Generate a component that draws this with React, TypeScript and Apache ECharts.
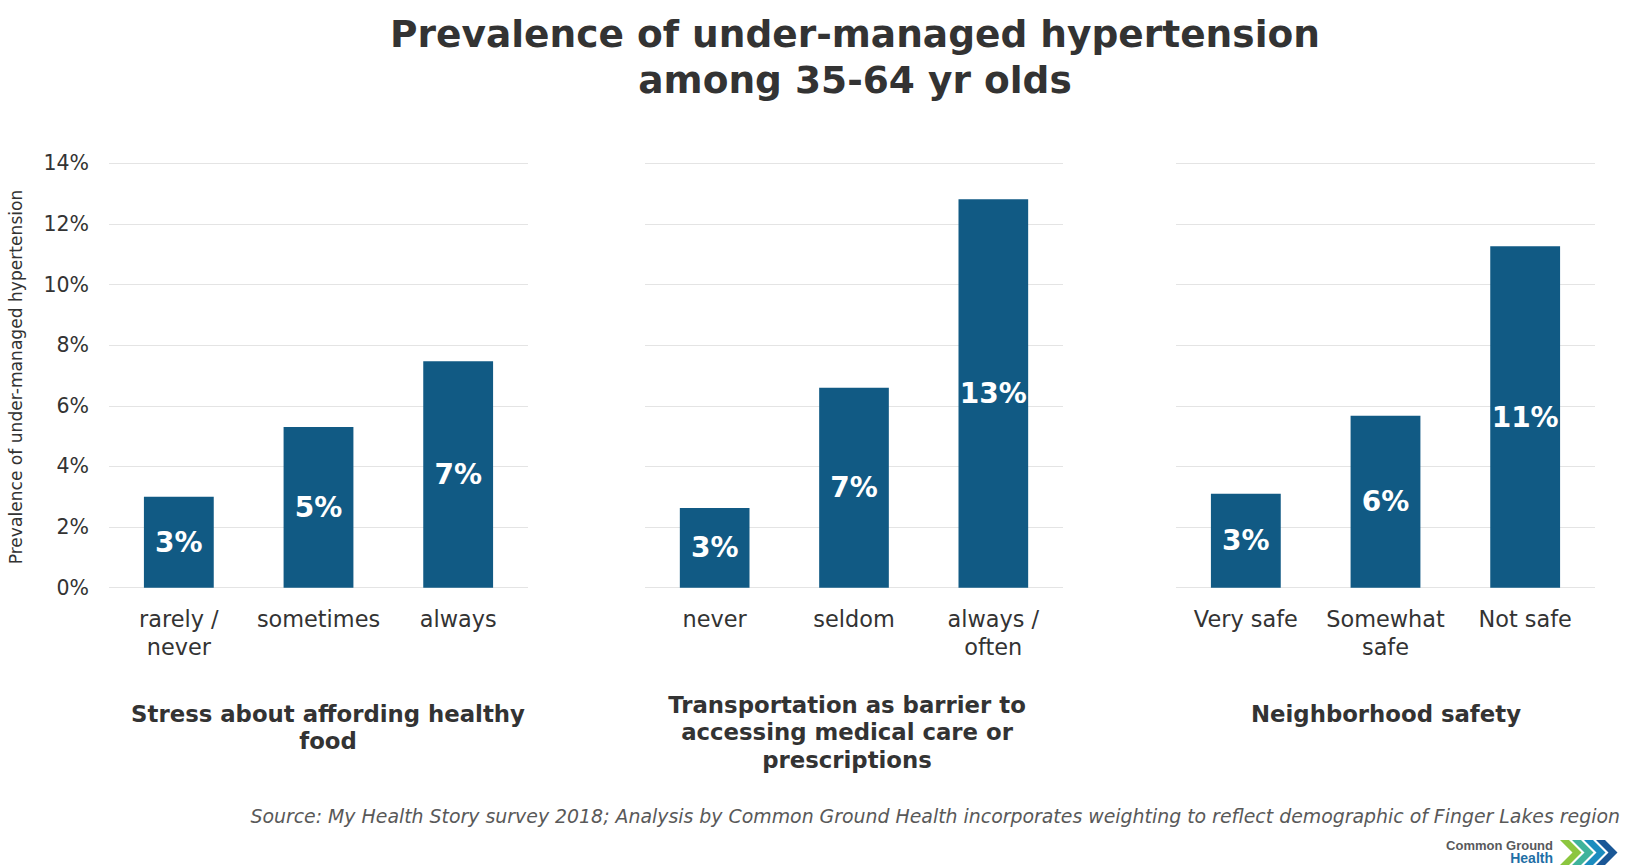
import * as echarts from "echarts"
import { useEffect, useRef } from "react"

const panelTitles = [
  "Stress about affording healthy\nfood",
  "Transportation as barrier to\naccessing medical care or\nprescriptions",
  "Neighborhood safety",
]
const foodCategories = ["rarely /\nnever", "sometimes", "always"]
const foodValues = [3.0, 5.3, 7.47]
const transportCategories = ["never", "seldom", "always /\noften"]
const transportValues = [2.63, 6.6, 12.81]
const safetyCategories = ["Very safe", "Somewhat\nsafe", "Not safe"]
const safetyValues = [3.1, 5.67, 11.26]
const yTicks = { min: 0, max: 14, interval: 2 }

const FONT = "DejaVu Sans"
const BAR = "#115a84"
const INK = "#333333"

const gridTop = 163.3
const gridHeight = 424.4
const panelLeft = [109, 645, 1176]
const panelWidth = [419, 418, 419]
const titleX = [328, 847, 1386]
const titleTop = [700, 691, 700]

export default function App() {
  const ref = useRef<HTMLDivElement>(null)

  useEffect(() => {
    if (!ref.current) return
    const chart = echarts.init(ref.current, undefined, { renderer: "svg" })
    const cats = [foodCategories, transportCategories, safetyCategories]
    const vals = [foodValues, transportValues, safetyValues]

    // logo chevrons
    const chevrons = [0, 1, 2, 3].map((i) => {
      const x0 = 1560 + i * 12
      const y0 = 840
      const t = 9
      const h = 25
      return {
        type: "polygon",
        shape: {
          points: [
            [x0, y0],
            [x0 + t, y0],
            [x0 + t + h / 2, y0 + h / 2],
            [x0 + t, y0 + h],
            [x0, y0 + h],
            [x0 + h / 2, y0 + h / 2],
          ],
        },
        style: { fill: ["#8cc63f", "#3fb39b", "#1b8cbf", "#1a5796"][i] },
      }
    })

    chart.setOption({
      animation: false,
      backgroundColor: "#ffffff",
      textStyle: { fontFamily: FONT },
      title: {
        text: "Prevalence of under-managed hypertension\namong 35-64 yr olds",
        left: 850,
        top: 6,
        textAlign: "center",
        textStyle: {
          fontFamily: FONT,
          fontSize: 37.5,
          fontWeight: "bold",
          color: INK,
          lineHeight: 46,
        },
      },
      grid: panelLeft.map((left, i) => ({
        left,
        width: panelWidth[i],
        top: gridTop,
        height: gridHeight,
      })),
      xAxis: cats.map((data, i) => ({
        type: "category",
        gridIndex: i,
        data,
        axisLine: { show: false },
        axisTick: { show: false },
        axisLabel: {
          interval: 0,
          margin: 17,
          fontFamily: FONT,
          fontSize: 22.4,
          lineHeight: 28,
          color: INK,
        },
      })),
      yAxis: [0, 1, 2].map((i) => ({
        type: "value",
        gridIndex: i,
        ...yTicks,
        axisLine: { show: false },
        axisTick: { show: false },
        axisLabel: {
          show: i === 0,
          formatter: "{value}%",
          margin: 20,
          fontFamily: FONT,
          fontSize: 20.5,
          color: INK,
        },
        splitLine: { lineStyle: { color: "#e4e4e4", width: 1 } },
      })),
      series: vals.map((data, i) => ({
        type: "bar",
        xAxisIndex: i,
        yAxisIndex: i,
        data,
        barWidth: "50%",
        itemStyle: { color: BAR },
        label: {
          show: true,
          position: "inside",
          formatter: (p: any) => `${Math.round(p.value)}%`,
          fontFamily: FONT,
          fontSize: 28,
          fontWeight: "bold",
          color: "#ffffff",
        },
      })),
      graphic: [
        {
          type: "text",
          x: 16,
          y: 377,
          rotation: Math.PI / 2,
          style: {
            text: "Prevalence of under-managed hypertension",
            textAlign: "center",
            textVerticalAlign: "middle",
            font: `17.1px "${FONT}"`,
            fill: INK,
          },
        },
        ...panelTitles.map((text, i) => ({
          type: "text",
          x: titleX[i],
          y: titleTop[i],
          style: {
            text,
            textAlign: "center",
            textVerticalAlign: "top",
            font: `bold 22.8px "${FONT}"`,
            lineHeight: 27.5,
            fill: INK,
          },
        })),
        {
          type: "text",
          x: 1620,
          y: 816,
          style: {
            text: "Source: My Health Story survey 2018; Analysis by Common Ground Health incorporates weighting to reflect demographic of Finger Lakes region",
            textAlign: "right",
            textVerticalAlign: "middle",
            font: `italic 18.9px "${FONT}"`,
            fill: "#595959",
          },
        },
        {
          type: "text",
          x: 1553,
          y: 845,
          style: {
            text: "Common Ground",
            textAlign: "right",
            textVerticalAlign: "middle",
            font: `bold 13px "Liberation Sans"`,
            fill: "#58595b",
          },
        },
        {
          type: "text",
          x: 1553,
          y: 858,
          style: {
            text: "Health",
            textAlign: "right",
            textVerticalAlign: "middle",
            font: `bold 14px "Liberation Sans"`,
            fill: "#1f6fa6",
          },
        },
        ...chevrons,
      ],
    })
    return () => chart.dispose()
  }, [])

  return (
    <div
      ref={ref}
      style={{ position: "fixed", left: 0, top: 0, width: 1649, height: 867 }}
    />
  )
}
